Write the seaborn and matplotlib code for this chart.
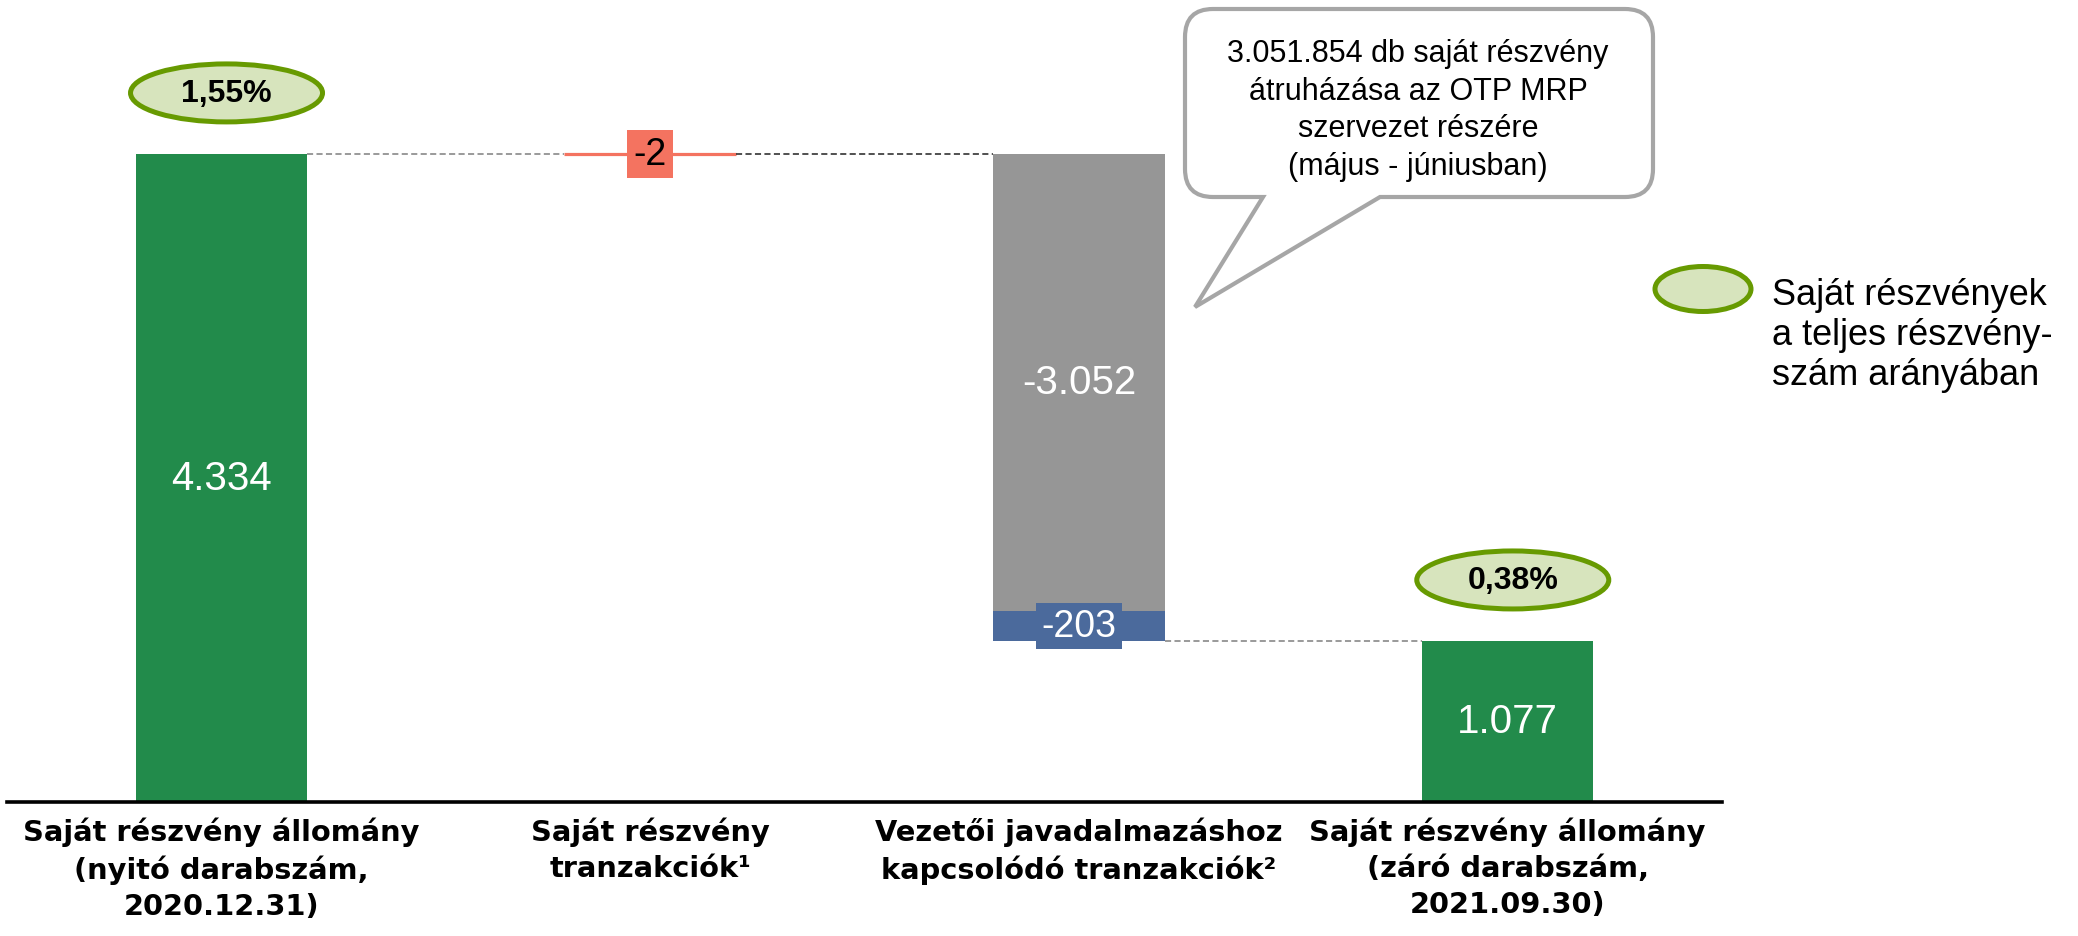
import matplotlib
matplotlib.use("Agg")
import matplotlib.pyplot as plt
from matplotlib.patches import Ellipse, PathPatch
from matplotlib.path import Path
import seaborn as sns

# ---- data (thousand shares) ----
categories = [
    "Saját részvény állomány\n(nyitó darabszám,\n2020.12.31)",
    "Saját részvény\ntranzakciók\u00b9",
    "Vezetői javadalmazáshoz\nkapcsolódó tranzakciók\u00b2",
    "Saját részvény állomány\n(záró darabszám,\n2021.09.30)",
]
opening = 4334
changes = [-2, -3052, -203]
change_cats = [1, 2, 2]
closing = 1077
share_pct = [1.55, 0.38]          # treasury shares in % of all shares (opening, closing)
callout_lines = [
    "3.051.854 db saját részvény",
    "átruházása az OTP MRP",
    "szervezet részére",
    "(május - júniusban)",
]
legend_lines = ["Saját részvények", "a teljes részvény-", "szám arányában"]

# ---- style ----
GREEN = "#228B4B"
RED = "#F47360"
GREY = "#969696"
BLUE = "#4B6A9C"
OVAL_FACE = "#D7E4BD"
OVAL_EDGE = "#679A01"
CALLOUT_EDGE = "#A6A6A6"

sns.set_theme(style="white")
plt.rcParams["font.family"] = ["Liberation Sans", "DejaVu Sans"]

W, H = 2078, 937
fig = plt.figure(figsize=(W / 100, H / 100), dpi=100)
ax = fig.add_axes([7 / W, (H - 803) / H, 1715 / W, 803 / H])


def fx(px):
    return px / W


def fy(py):
    return 1 - py / H


def hu_int(v):
    return f"{v:,}".replace(",", ".")


def hu_pct(v):
    return f"{v:.2f}".replace(".", ",") + "%"


# ---- waterfall segments ----
seg_cat = [0] + change_cats + [3]
seg_delta = [opening] + changes + [closing]
seg_start = [0]
level = opening
levels = [opening]
for d in changes:
    seg_start.append(level)
    level += d
    levels.append(level)
seg_start.append(0)
seg_color = [GREEN, RED, GREY, BLUE, GREEN]

BAR_W = 0.4
for c, s, d, col in zip(seg_cat, seg_start, seg_delta, seg_color):
    thin = abs(d) < 20
    sns.barplot(x=[categories[c]], y=[abs(d)], order=categories, color=col,
                saturation=1, width=BAR_W, ax=ax,
                edgecolor=col, linewidth=2.3 if thin else 0)
    ax.patches[-1].set_y(min(s, s + d))

# ---- value labels ----
for i, (c, s, d, col) in enumerate(zip(seg_cat, seg_start, seg_delta, seg_color)):
    yc = s + d / 2
    if col == RED:
        ax.text(c, yc, hu_int(d), ha="center", va="center", fontsize=27,
                color="black", zorder=6,
                bbox=dict(boxstyle="square,pad=0.17", fc=RED, ec="none"))
    elif col == BLUE:
        ax.text(c, yc, hu_int(d), ha="center", va="center", fontsize=27,
                color="white", zorder=6,
                bbox=dict(boxstyle="square,pad=0.14", fc=BLUE, ec="none"))
    else:
        ax.text(c, yc, hu_int(d), ha="center", va="center", fontsize=29,
                color="white", zorder=6)

# ---- connectors ----
conn = [(0, 1, levels[0], "#7F7F7F"), (1, 2, levels[1], "#202020"),
        (2, 3, levels[3], "#7F7F7F")]
for a, b, yv, col in conn:
    ax.plot([a + BAR_W / 2, b - BAR_W / 2], [yv, yv], color=col, lw=1.1,
            dashes=(4, 2.2), zorder=1)

# ---- percentage ovals ----
px_per_x = 1715 / 4
ylim_top = 5370
px_per_y = 803 / ylim_top
oval_w = 192 / px_per_x
oval_h = 58 / px_per_y
for c, top, pct in [(0, opening, share_pct[0]), (3, closing, share_pct[1])]:
    yc = top + 61 / px_per_y
    ax.add_patch(Ellipse((c + 0.012, yc), oval_w, oval_h, fc=OVAL_FACE,
                         ec=OVAL_EDGE, lw=3.6, zorder=5, clip_on=False))
    ax.text(c + 0.012, yc, hu_pct(pct), ha="center", va="center",
            fontsize=23, fontweight="bold", color="black", zorder=6)

# ---- axes styling ----
ax.set_xlim(-0.5, 3.5)
ax.set_ylim(0, ylim_top)
for side in ["left", "right", "top"]:
    ax.spines[side].set_visible(False)
ax.spines["bottom"].set_color("black")
ax.spines["bottom"].set_linewidth(2.6)
ax.set_yticks([])
ax.set_xticks(range(len(categories)))
ax.set_xticklabels(categories, fontsize=20.8, fontweight="bold",
                   family=["DejaVu Sans"], linespacing=1.36)
ax.tick_params(axis="x", length=0, pad=10.5, colors="black")
ax.set_xlabel("")
ax.set_ylabel("")

# ---- callout bubble ----
L, R, T, B, r = 1185, 1653, 10, 198, 28
x1, x2, tip = 1263, 1380, (1195, 308)
pts = [
    ((L + r, T), Path.MOVETO), ((R - r, T), Path.LINETO),
    ((R, T), Path.CURVE3), ((R, T + r), Path.CURVE3),
    ((R, B - r), Path.LINETO),
    ((R, B), Path.CURVE3), ((R - r, B), Path.CURVE3),
    ((x2, B), Path.LINETO), (tip, Path.LINETO), ((x1, B), Path.LINETO),
    ((L + r, B), Path.LINETO),
    ((L, B), Path.CURVE3), ((L, B - r), Path.CURVE3),
    ((L, T + r), Path.LINETO),
    ((L, T), Path.CURVE3), ((L + r, T), Path.CURVE3),
    ((L + r, T), Path.CLOSEPOLY),
]
verts = [(fx(p[0]), fy(p[1])) for p, _ in pts]
codes = [cd for _, cd in pts]
fig.add_artist(PathPatch(Path(verts, codes), transform=fig.transFigure,
                         fc="white", ec=CALLOUT_EDGE, lw=3.0,
                         joinstyle="miter", zorder=10))
for k, line in enumerate(callout_lines):
    fig.text(fx(1418), fy(62 + 37.5 * k), line, ha="center", va="baseline",
             fontsize=22, color="black", zorder=11)

# ---- legend ----
fig.add_artist(Ellipse((fx(1703), fy(290)), 96 / W, 45 / H,
                       transform=fig.transFigure, fc=OVAL_FACE, ec=OVAL_EDGE,
                       lw=3.6, zorder=10))
for k, line in enumerate(legend_lines):
    fig.text(fx(1772), fy(305 + 40 * k), line, ha="left", va="baseline",
             fontsize=26, color="black", zorder=11)

fig.savefig("out.png", dpi=100, facecolor="white")
